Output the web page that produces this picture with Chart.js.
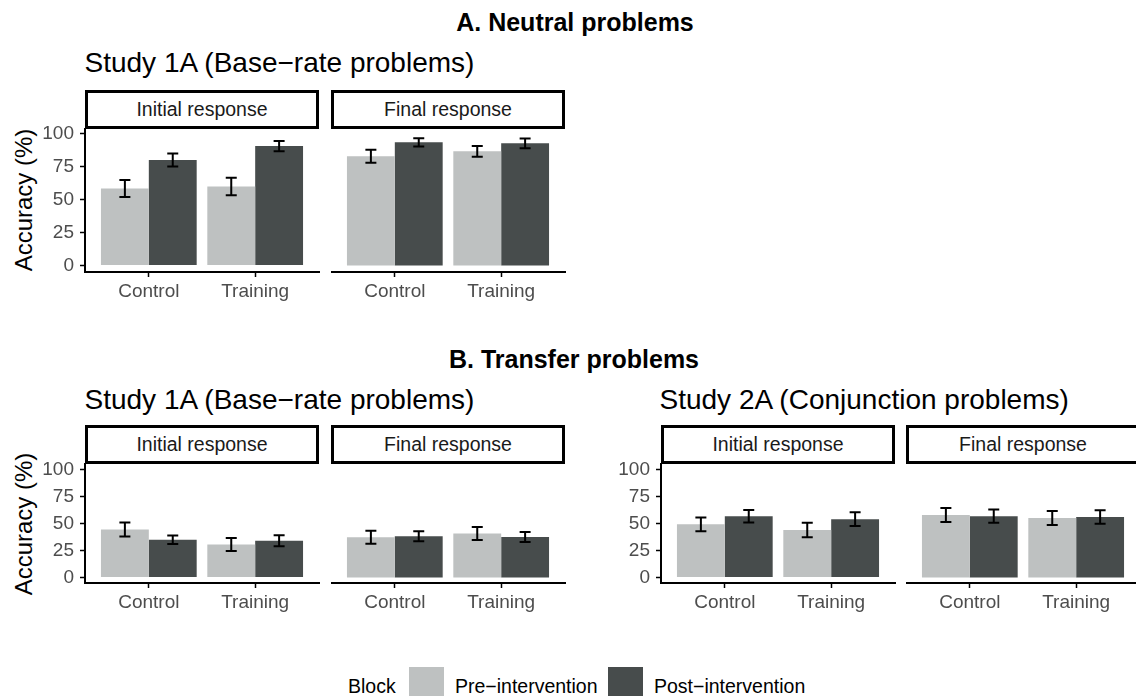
<!DOCTYPE html>
<html>
<head>
<meta charset="utf-8">
<script src="https://cdn.jsdelivr.net/npm/chart.js@4"></script>
<style>
  html, body { margin:0; padding:0; background:#fff; }
  body { width:1136px; height:696px; overflow:hidden; position:relative; font-family:"Liberation Sans", Arial, Helvetica, sans-serif; }
  .txt { position:absolute; white-space:nowrap; line-height:1; }
  .strip { position:absolute; box-sizing:border-box; border:3px solid #000; background:#fff;
           display:flex; align-items:center; justify-content:center; font-size:19.5px; color:#1a1a1a; }
  canvas { position:absolute; }
  .swatch { position:absolute; width:35px; height:35px; }
</style>
</head>
<body>

<div class="txt" style="left:375px;top:9.5px;width:400px;text-align:center;font-size:25px;font-weight:bold;">A. Neutral problems</div>
<div class="txt" style="left:84.5px;top:48.6px;font-size:28px;">Study 1A (Base−rate problems)</div>

<div class="txt" style="left:374px;top:346.8px;width:400px;text-align:center;font-size:25px;font-weight:bold;">B. Transfer problems</div>
<div class="txt" style="left:84.5px;top:386.3px;font-size:28px;">Study 1A (Base−rate problems)</div>
<div class="txt" style="left:659.5px;top:386.3px;font-size:28px;">Study 2A (Conjunction problems)</div>

<div class="txt" style="left:-55.8px;top:188.3px;width:160px;text-align:center;font-size:24px;line-height:24px;transform:rotate(-90deg);">Accuracy (%)</div>
<div class="txt" style="left:-55.8px;top:511.8px;width:160px;text-align:center;font-size:24px;line-height:24px;transform:rotate(-90deg);">Accuracy (%)</div>

<div class="txt" style="left:348px;top:676.5px;font-size:19.5px;">Block</div>
<div class="swatch" id="swPre" style="left:409px;top:667px;"></div>
<div class="txt" style="left:455px;top:676.5px;font-size:19.5px;" id="lbPre"></div>
<div class="swatch" id="swPost" style="left:608px;top:667px;"></div>
<div class="txt" style="left:654px;top:676.5px;font-size:19.5px;" id="lbPost"></div>

<script>
// categories, series and ticks
const groups = ["Control", "Training"];
const blocks = ["Pre−intervention", "Post−intervention"];
const facets = ["Initial response", "Final response"];
const yTicks = [0, 25, 50, 75, 100];
const blockColors = ["#bec1c1", "#474c4c"];

// A. Neutral problems, Study 1A
const neutral1A_initial_pre = [58.5, 60.0];
const neutral1A_initial_pre_err = [6.4, 6.7];
const neutral1A_initial_post = [80.2, 90.8];
const neutral1A_initial_post_err = [5.0, 3.9];
const neutral1A_final_pre = [83.0, 86.8];
const neutral1A_final_pre_err = [5.0, 4.1];
const neutral1A_final_post = [93.6, 92.9];
const neutral1A_final_post_err = [3.2, 3.7];

// B. Transfer problems, Study 1A
const transfer1A_initial_pre = [44.5, 30.6];
const transfer1A_initial_pre_err = [6.5, 6.0];
const transfer1A_initial_post = [35.0, 34.1];
const transfer1A_initial_post_err = [4.0, 5.1];
const transfer1A_final_pre = [37.2, 40.8];
const transfer1A_final_pre_err = [6.0, 6.0];
const transfer1A_final_post = [38.2, 37.5];
const transfer1A_final_post_err = [4.6, 4.6];

// B. Transfer problems, Study 2A
const transfer2A_initial_pre = [49.2, 44.0];
const transfer2A_initial_pre_err = [6.3, 6.7];
const transfer2A_initial_post = [56.7, 54.0];
const transfer2A_initial_post_err = [5.7, 6.4];
const transfer2A_final_pre = [57.8, 55.0];
const transfer2A_final_pre_err = [6.5, 6.5];
const transfer2A_final_post = [56.8, 56.0];
const transfer2A_final_post_err = [6.2, 6.2];

const FONT = '"Liberation Sans", Arial, Helvetica, sans-serif';
Chart.defaults.font.family = FONT;

document.getElementById("swPre").style.background = blockColors[0];
document.getElementById("swPost").style.background = blockColors[1];
document.getElementById("lbPre").textContent = blocks[0];
document.getElementById("lbPost").textContent = blocks[1];

// error bars on top of each bar
const errorBars = {
  id: "errorBars",
  afterDatasetsDraw(chart){
    const ctx = chart.ctx;
    const ys = chart.scales.y;
    chart.data.datasets.forEach((ds, di)=>{
      const meta = chart.getDatasetMeta(di);
      meta.data.forEach((bar, i)=>{
        const m = ds.data[i].y, e = ds.errors[i];
        const top = ys.getPixelForValue(m + e);
        const bot = ys.getPixelForValue(m - e);
        ctx.save();
        ctx.strokeStyle = "#000";
        ctx.lineWidth = 2;
        ctx.beginPath();
        ctx.moveTo(bar.x, top); ctx.lineTo(bar.x, bot);
        ctx.moveTo(bar.x - 5.5, top); ctx.lineTo(bar.x + 5.5, top);
        ctx.moveTo(bar.x - 5.5, bot); ctx.lineTo(bar.x + 5.5, bot);
        ctx.stroke();
        ctx.restore();
      });
    });
  }
};

const T = 26, B = 40, R = 2, YW = 85;

function strip(left, top, width, label){
  const d = document.createElement("div");
  d.className = "strip";
  d.style.left = left + "px";
  d.style.top = top + "px";
  d.style.width = width + "px";
  d.style.height = "39px";
  d.textContent = label;
  document.body.appendChild(d);
}

function panel(p){
  const L = p.showY ? YW : 0;
  const c = document.createElement("canvas");
  const w = L + p.width + R, h = T + p.height + B;
  c.width = w; c.height = h;
  c.style.left = (p.left - L) + "px";
  c.style.top = (p.top - T) + "px";
  c.style.width = w + "px";
  c.style.height = h + "px";
  document.body.appendChild(c);

  strip(p.left, p.top - 39, p.width, p.facet);

  new Chart(c, {
    type: "bar",
    data: {
      datasets: [
        { label: blocks[0], data: groups.map((g,i)=>({x:i+1, y:p.pre[i]})), errors: p.preErr, backgroundColor: blockColors[0] },
        { label: blocks[1], data: groups.map((g,i)=>({x:i+1, y:p.post[i]})), errors: p.postErr, backgroundColor: blockColors[1] }
      ]
    },
    options: {
      responsive: false,
      animation: false,
      events: [],
      layout: { padding: { top: T, right: R, left: 0, bottom: 0 } },
      datasets: { bar: { categoryPercentage: 0.9, barPercentage: 1.0, borderWidth: 0 } },
      plugins: { legend: { display: false }, tooltip: { enabled: false } },
      scales: {
        x: {
          type: "linear", min: 0.4, max: 2.6, offset: false,
          afterBuildTicks: s => { s.ticks = groups.map((g,i)=>({value:i+1})); },
          afterFit: s => { s.height = B; },
          border: { display: true, color: "#000", width: 2 },
          grid: { offset: false, drawOnChartArea: false, tickLength: 5, tickColor: "#000", tickWidth: 1.5 },
          ticks: { callback: v => groups[v-1], color: "#4d4d4d", font: { size: 19 }, padding: 3, autoSkip: false, maxRotation: 0 }
        },
        y: {
          display: p.showY,
          min: p.yMin, max: p.yMax,
          afterBuildTicks: s => { s.ticks = yTicks.map(v=>({value:v})); },
          afterFit: s => { if(p.showY) s.width = L; },
          border: { display: true, color: "#000", width: 2 },
          grid: { drawOnChartArea: false, tickLength: 5, tickColor: "#000", tickWidth: 1.5 },
          ticks: { color: "#4d4d4d", font: { size: 19 }, padding: 6 }
        }
      }
    },
    plugins: [errorBars]
  });
}

const rowA = { top: 129, height: 143, yMin: -4.94, yMax: 103.74 };
const rowB = { top: 464, height: 119, yMin: -5, yMax: 105 };

panel({ ...rowA, left: 85,  width: 234, showY: true,  facet: facets[0],
  pre: neutral1A_initial_pre, preErr: neutral1A_initial_pre_err, post: neutral1A_initial_post, postErr: neutral1A_initial_post_err });
panel({ ...rowA, left: 331, width: 234, showY: false, facet: facets[1],
  pre: neutral1A_final_pre, preErr: neutral1A_final_pre_err, post: neutral1A_final_post, postErr: neutral1A_final_post_err });

panel({ ...rowB, left: 85,  width: 234, showY: true,  facet: facets[0],
  pre: transfer1A_initial_pre, preErr: transfer1A_initial_pre_err, post: transfer1A_initial_post, postErr: transfer1A_initial_post_err });
panel({ ...rowB, left: 331, width: 234, showY: false, facet: facets[1],
  pre: transfer1A_final_pre, preErr: transfer1A_final_pre_err, post: transfer1A_final_post, postErr: transfer1A_final_post_err });

panel({ ...rowB, left: 661, width: 234, showY: true,  facet: facets[0],
  pre: transfer2A_initial_pre, preErr: transfer2A_initial_pre_err, post: transfer2A_initial_post, postErr: transfer2A_initial_post_err });
panel({ ...rowB, left: 906, width: 234, showY: false, facet: facets[1],
  pre: transfer2A_final_pre, preErr: transfer2A_final_pre_err, post: transfer2A_final_post, postErr: transfer2A_final_post_err });
</script>
</body>
</html>
